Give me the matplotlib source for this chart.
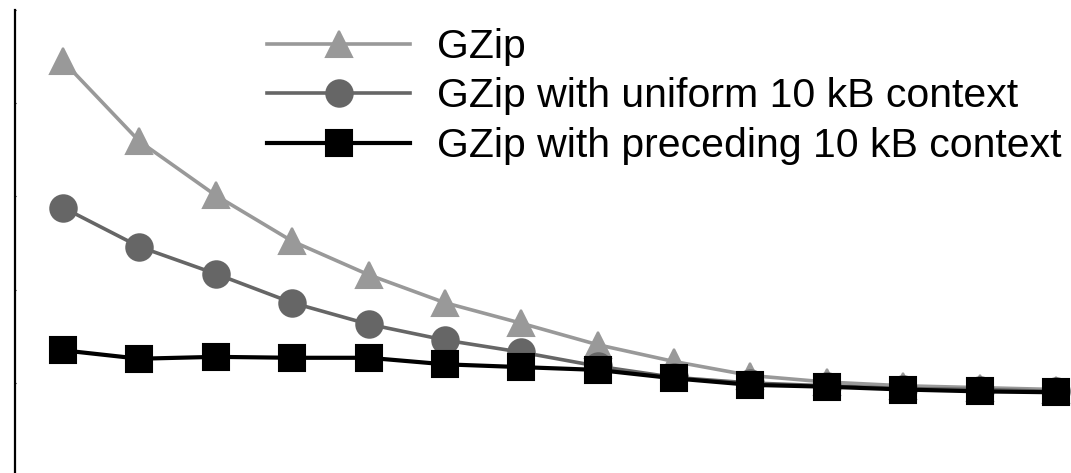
import matplotlib
matplotlib.use("Agg")
import matplotlib.pyplot as plt

plt.rcParams['font.family'] = ['Liberation Sans', 'DejaVu Sans']

x_index = list(range(14))
gzip = [4.45, 3.59, 3.01, 2.52, 2.16, 1.86, 1.64, 1.41, 1.23, 1.08, 1.01, 0.97, 0.95, 0.93]
gzip_uniform = [2.88, 2.46, 2.17, 1.86, 1.63, 1.46, 1.33, 1.18, 1.06, 1.00, 0.97, 0.94, 0.93, 0.91]
gzip_preceding = [1.35, 1.26, 1.28, 1.27, 1.27, 1.20, 1.17, 1.14, 1.05, 0.98, 0.96, 0.93, 0.91, 0.90]
labels = ["GZip", "GZip with uniform 10 kB context", "GZip with preceding 10 kB context"]
yticks = [0, 1, 2, 3, 4, 5]

W, H = 1071, 473
fig = plt.figure(figsize=(W / 100, H / 100), dpi=100)
left_px, top_px, bottom_px = 15, 9.7, 476.3
ax = fig.add_axes([left_px / W, (H - bottom_px) / H, 1 - left_px / W, (bottom_px - top_px) / H])

ms = 19
common = dict(markersize=ms, markeredgewidth=1.5, clip_on=False)
ax.plot(x_index, gzip, color='#999999', lw=2.6, marker='^', label=labels[0], **common)
ax.plot(x_index, gzip_uniform, color='#666666', lw=2.6, marker='o', label=labels[1], **common)
ax.plot(x_index, gzip_preceding, color='black', lw=3.0, marker='s', label=labels[2], **common)

ax.set_xlim(-0.628, 13.196)
ax.set_ylim(0, 5)
ax.set_yticks(yticks)
ax.set_yticklabels([])
ax.set_xticks([])
ax.tick_params(axis='y', direction='in', length=1, width=0.8)
for s in ['top', 'right', 'bottom']:
    ax.spines[s].set_visible(False)
ax.spines['left'].set_linewidth(1.6)

leg = ax.legend(loc='upper left', bbox_to_anchor=(267 / W, 1 - 28 / H), bbox_transform=fig.transFigure,
                frameon=False, fontsize=29.5, handlelength=3.5, handletextpad=0.66,
                labelspacing=0.28, borderpad=0, borderaxespad=0, numpoints=1)

fig.savefig('out.png', dpi=100)
